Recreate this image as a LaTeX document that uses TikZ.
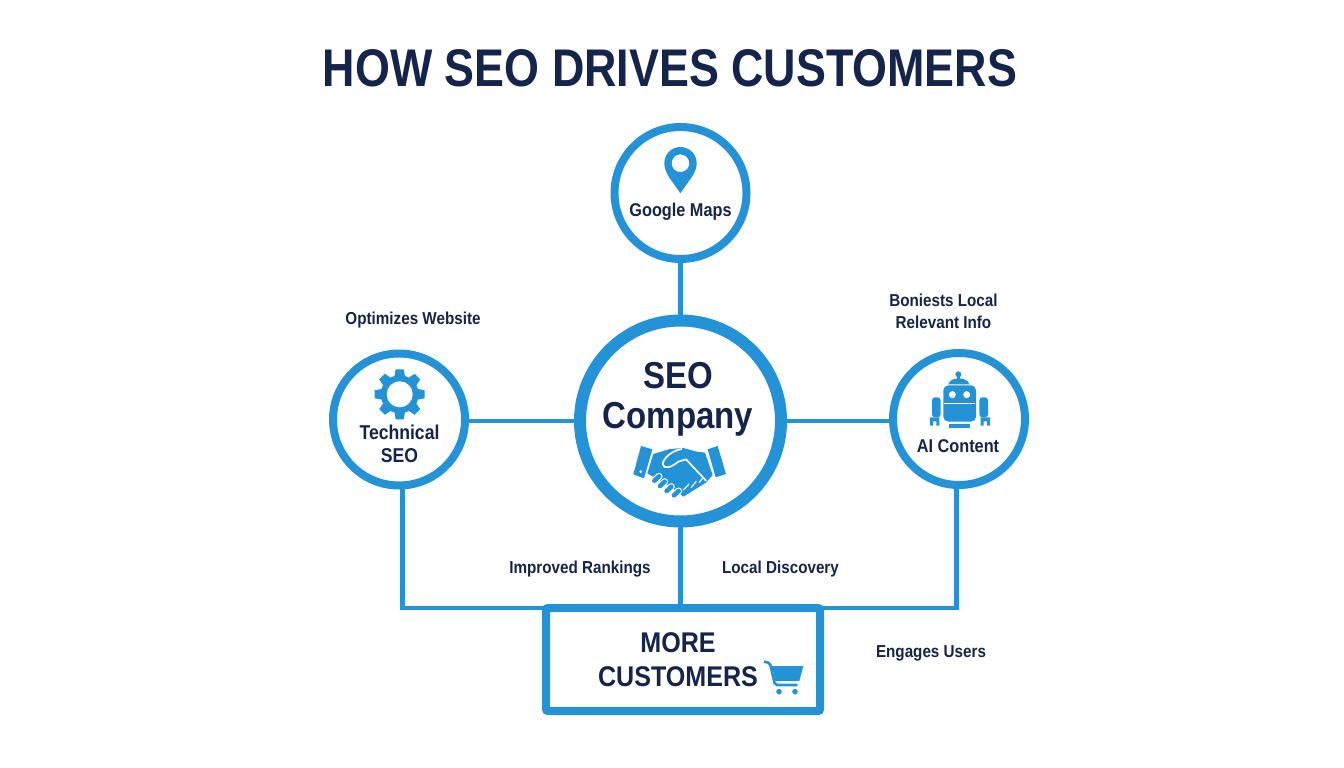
\documentclass[tikz,border=0pt]{standalone}
\usepackage{fontspec}
\setmainfont{Liberation Sans}[FakeStretch=0.88,BoldFont={Liberation Sans Bold}]
\newfontfamily\titlefont{Liberation Sans Bold}[FakeStretch=0.846]
\usetikzlibrary{calc}
\definecolor{seoblue}{HTML}{2392D6}
\definecolor{seonavy}{HTML}{15244A}
\tikzset{
  every node/.style={inner sep=0pt,outer sep=0pt},
  hub/.style={circle,draw=seoblue,line width=8pt,fill=white,minimum size=132pt},
  bighub/.style={circle,draw=seoblue,line width=12pt,fill=white,minimum size=201pt},
  goalbox/.style={rectangle,rounded corners=2pt,draw=seoblue,line width=8pt,fill=white,minimum width=274pt,minimum height=103pt},
  link/.style={draw=seoblue,line width=4.5pt},
  txt/.style={text=seonavy,font=\bfseries\fontsize{20}{23}\selectfont,align=center},
  smalltxt/.style={text=seonavy,font=\bfseries\fontsize{18.5}{22}\selectfont,align=center},
  capt/.style={text=seonavy,font=\bfseries\fontsize{17.3}{22}\selectfont,align=center},
  icon/.style={fill=seoblue,draw=none},
}
\begin{document}
\begin{tikzpicture}[x=1pt,y=-1pt]
\useasboundingbox (0,0) rectangle (1344,768);
\fill[white] (0,0) rectangle (1344,768);
\node[text=seonavy,font=\titlefont\fontsize{53}{60}\selectfont,anchor=base] (title) at (670,87) {HOW SEO DRIVES CUSTOMERS};
\node[hub] (maps) at (680.5,193) {};
\node[bighub] (seo) at (680.5,421) {};
\node[hub] (tech) at (399,419.5) {};
\node[hub] (ai) at (959,419) {};
\node[goalbox] (goal) at (683,659.5) {};
\coordinate (goalL) at (546,608);
\coordinate (goalR) at (820,608);
\draw[link] (maps) -- (seo);
\draw[link] (seo.180) -- (seo.180 -| tech.0);
\draw[link] (seo.0) -- (seo.0 -| ai.180);
\draw[link] (seo.south) -- (seo.south |- goal.north);
\draw[link] (tech.273) |- (goalL);
\draw[link] (ai.268) |- (goalR);
% texts
\node[smalltxt] (mapsT) at (680.5,211.5) {Google Maps};
\node[txt] (techT) at (399.5,444) {Technical\\SEO};
\node[smalltxt] (aiT) at (958,446) {AI Content};
\node[txt,font=\bfseries\fontsize{37.5}{40}\selectfont] (seoT) at (678,399) {SEO\\Company};
\node[txt,font=\bfseries\fontsize{28.5}{34}\selectfont] (goalT) at (678,660) {MORE\\CUSTOMERS};
\node[capt] (c1) at (413,320) {Optimizes Website};
\node[capt] (c2) at (943.5,311) {Boniests Local\\Relevant Info};
\node[capt] (c3) at (580,569) {Improved Rankings};
\node[capt] (c4) at (780.5,569) {Local Discovery};
\node[capt] (c5) at (931,653) {Engages Users};
% pin
\begin{scope}[shift={(600,115)},x=.3333pt,y=-.3333pt]
\fill[icon,even odd rule] (241,235) .. controls (215,195) and (193,175) .. (193,145) .. controls (193,117) and (215,96) .. (241,96) .. controls (268,96) and (290,117) .. (290,145) .. controls (290,175) and (267,195) .. (241,235) -- cycle
 (241,118) .. controls (226,118) and (215,130) .. (215,145) .. controls (215,160) and (226,171) .. (241,171) .. controls (256,171) and (268,160) .. (268,145) .. controls (268,130) and (256,118) .. (241,118) -- cycle;
\end{scope}
% gear
\begin{scope}[shift={(399.7,394.3)}]
\foreach \a in {0,45,...,315}{
  \fill[icon,rotate=\a] (-5.5,-17) -- (-4,-25) -- (4,-25) -- (5.5,-17) -- cycle;
}
\fill[icon] (0,0) circle (19pt);
\fill[white] (0,0) circle (13pt);
\end{scope}
% robot
\begin{scope}[shift={(880,280)},x=.3333pt,y=-.3333pt]
\fill[icon] (235,283) circle (3pt);
\fill[icon] (231,285) rectangle (239,300);
\fill[icon] (205,313) .. controls (208,302) and (220,295) .. (236,295) .. controls (252,295) and (265,302) .. (268,313) -- cycle;
\fill[icon,rounded corners=5pt] (190,316) rectangle (288,425);
\fill[white] (217,344) circle (3.5pt);
\fill[white] (260,344) circle (3.5pt);
\fill[white] (192,368) rectangle (286,372);
\fill[icon] (208,433) rectangle (270,443);
\fill[icon,rounded corners=3pt] (156,352) rectangle (182,412);
\fill[icon,rounded corners=3pt] (298,352) rectangle (324,412);
\fill[icon] (150,437) -- (150,412) -- (178,412) -- (178,437) -- (169,437) -- (169,424) -- (159,424) -- (159,437) -- cycle;
\fill[icon] (302,437) -- (302,412) -- (330,412) -- (330,437) -- (321,437) -- (321,424) -- (311,424) -- (311,437) -- cycle;
\end{scope}
% handshake
\begin{scope}[shift={(625,440)},x=.3333pt,y=-.3333pt]
\fill[icon] (48,18) -- (82,28) -- (57,115) -- (25,103) -- cycle;
\fill[white] (47,95) circle (1.5pt);
\fill[icon] (248,28) -- (278,18) -- (303,102) -- (272,112) -- cycle;
\fill[icon] (85,42) -- (135,27) -- (175,24) -- (215,35) -- (240,38) -- (263,105) -- (243,128) -- (175,170) -- (150,150) -- (67,100) -- cycle;
\foreach \s/\e in {88/122,105/138,125/153,147/166}{
  \pgfmathsetmacro{\xa}{\s}
  \pgfmathsetmacro{\ya}{\e}
  \draw[white,line width=7pt,line cap=round] (\xa,\ya) -- ++(14,-13);
  \draw[seoblue,line width=4.6pt,line cap=round] (\xa,\ya) -- ++(14,-13);
}
\draw[white,line width=1.7pt,line cap=round,line join=round] (170,27) .. controls (140,32) and (115,55) .. (113,72) .. controls (115,90) and (140,82) .. (160,65) -- (183,58) -- (243,122);
\draw[white,line width=1.1pt] (175,150) -- (192,132) (198,143) -- (214,124) (222,128) -- (235,112);
\end{scope}
% cart
\begin{scope}[shift={(760,655)},x=.3333pt,y=-.3333pt]
\draw[seoblue,line width=2.6pt,line join=round,rounded corners=2pt] (12,20) -- (30,24) -- (45,90) -- (112,90);
\fill[icon] (35,33) -- (130,33) -- (118,78) -- (46,78) -- cycle;
\fill[icon] (57,110) circle (2.8pt);
\fill[icon] (105,110) circle (2.8pt);
\end{scope}
\end{tikzpicture}
\end{document}
